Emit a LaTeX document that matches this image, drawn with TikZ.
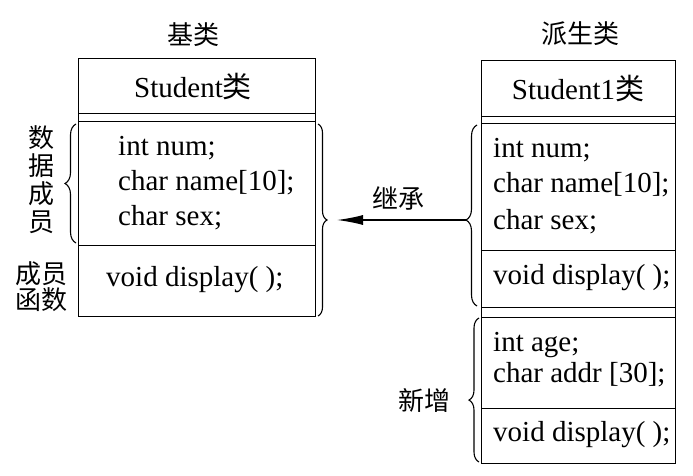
\documentclass[tikz,border=0pt]{standalone}
\usepackage{fontspec}
\setmainfont{Liberation Serif}
\newfontfamily\cjk{Noto Sans CJK SC}
\usetikzlibrary{decorations.pathreplacing,arrows.meta}
\tikzset{
  cell/.style={draw, line width=1.3pt, inner sep=0pt, anchor=north west},
  code/.style={inner sep=0pt, anchor=west, font=\fontsize{29}{32}\selectfont},
  ctitle/.style={inner sep=0pt, font=\fontsize{29}{32}\selectfont},
  zh/.style={inner sep=0pt, font=\cjk\fontsize{26}{28}\selectfont},
  brc/.style={draw, line width=1.1pt, decorate, decoration={brace, amplitude=#1}},
}
\begin{document}
\begin{tikzpicture}[x=1pt,y=-1pt]
\useasboundingbox (0,0) rectangle (693,476);
% titles
\node[zh] (t1) at (193,35) {基类};
\node[zh] (t2) at (580,34) {派生类};
% left box
\node[cell, minimum width=237, minimum height=55] (lh) at (78,58) {};
\node[cell, minimum width=237, minimum height=8] (lg) at (78,113) {};
\node[cell, minimum width=237, minimum height=124] (ld) at (78,121) {};
\node[cell, minimum width=237, minimum height=71] (lf) at (78,245) {};
\node[ctitle] (lht) at (193,86) {Student{\cjk 类}};
\node[code] (l1) at (118,148) {int num;};
\node[code] (l2) at (118,183) {char name[10];};
\node[code] (l3) at (118,218) {char sex;};
\node[code] (l4) at (106,280) {void display( );};
% right box
\node[cell, minimum width=194, minimum height=56] (rh) at (481,60) {};
\node[cell, minimum width=194, minimum height=7] (rg) at (481,116) {};
\node[cell, minimum width=194, minimum height=127] (rd) at (481,123) {};
\node[cell, minimum width=194, minimum height=57] (rf) at (481,250) {};
\node[cell, minimum width=194, minimum height=10] (rg2) at (481,307) {};
\node[cell, minimum width=194, minimum height=91] (nd) at (481,317) {};
\node[cell, minimum width=194, minimum height=55] (nf) at (481,408) {};
\node[ctitle] (rht) at (578,88) {Student1{\cjk 类}};
\node[code] (r1) at (493,150) {int num;};
\node[code] (r2) at (493,185) {char name[10];};
\node[code] (r3) at (493,222) {char sex;};
\node[code] (r4) at (493,278) {void display( );};
\node[code] (n1) at (493,345) {int age;};
\node[code] (n2) at (493,375) {char addr [30];};
\node[code] (n3) at (493,435) {void display( );};
% left labels
\node[zh] (s1) at (41,138) {数};
\node[zh] (s2) at (41,166) {据};
\node[zh] (s3) at (41,194) {成};
\node[zh] (s4) at (41,222) {员};
\node[zh] (f1) at (41,274) {成员};
\node[zh] (f2) at (41,300) {函数};
\node[zh] (inh) at (398,198) {继承};
\node[zh] (xz) at (424,401) {新增};
% braces
\draw[brc=11] (76,243) -- (76,124);
\draw[brc=9] (318,124) -- (318,316);
\draw[brc=11, decoration={aspect=0.475}] (477,306) -- (477,125);
\draw[brc=10, decoration={aspect=0.43}] (479,462) -- (479,318);
\coordinate (la) at (327,220);
\coordinate (ra) at (466,220);
\draw[line width=1.3pt, -{Latex[length=26,width=10]}, shorten >=10pt] (ra) -- (la);
\end{tikzpicture}
\end{document}
